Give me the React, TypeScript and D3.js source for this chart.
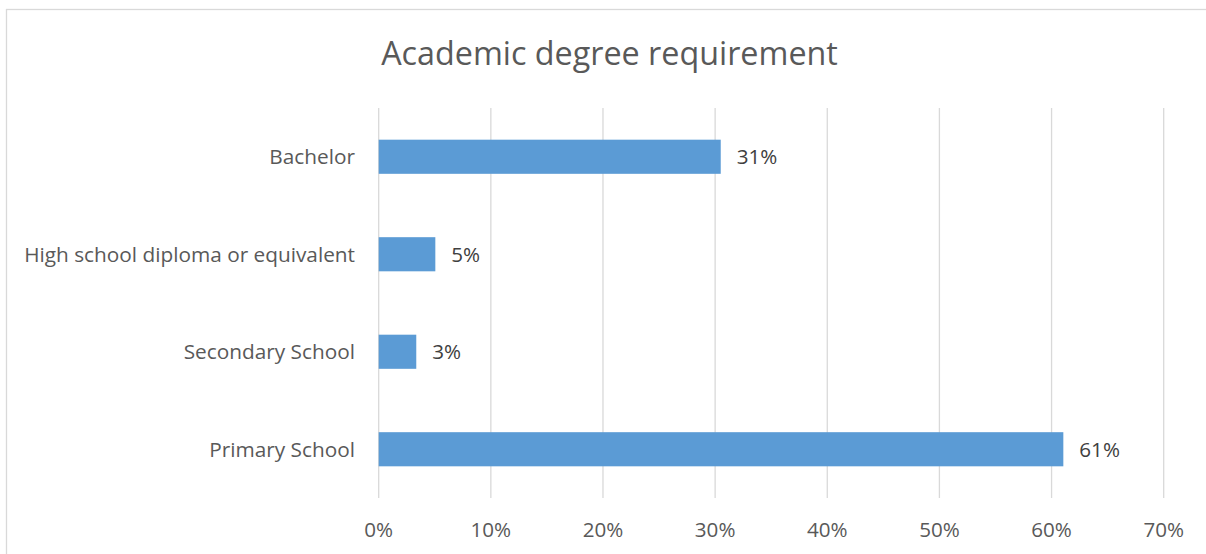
import React from "react";
import * as d3 from "d3";

const categories = ["Bachelor", "High school diploma or equivalent", "Secondary School", "Primary School"];
const values = [0.305, 0.0505, 0.0335, 0.6105];
const valueLabels = ["31%", "5%", "3%", "61%"];
const ticks = [0, 0.1, 0.2, 0.3, 0.4, 0.5, 0.6, 0.7];
const title = "Academic degree requirement";

export default function App() {
  const W = 1206, H = 554;
  const left = 378.7, right = 1163.7, top = 108, bottom = 498;
  const x = d3.scaleLinear().domain([0, 0.7]).range([left, right]);
  const y = d3.scaleBand<string>().domain(categories).range([top, bottom]).paddingInner(0.65).paddingOuter(0.325);
  const font = "'Open Sans', sans-serif";
  return (
    <svg width={W} height={H} style={{ position: "absolute", left: 0, top: 0, background: "#fff" }}>
      <rect x={6.5} y={9.5} width={1400} height={700} fill="#fff" stroke="#D9D9D9" strokeWidth={1.3} />
      <text x={609.5} y={65} textAnchor="middle" fontFamily={font} fontSize={32.3} fill="#595959">{title}</text>
      {ticks.map((t) => (
        <g key={t}>
          <line x1={x(t)} x2={x(t)} y1={top} y2={bottom} stroke="#D9D9D9" strokeWidth={1.3} />
          <text x={x(t)} y={537} textAnchor="middle" fontFamily={font} fontSize={20.6} fill="#595959">{d3.format(".0%")(t)}</text>
        </g>
      ))}
      {categories.map((c, i) => {
        const yc = (y(c) as number) + y.bandwidth() / 2;
        return (
          <g key={c}>
            <rect x={x(0)} y={y(c)} width={x(values[i]) - x(0)} height={y.bandwidth()} fill="#5B9BD5" />
            <text x={355} y={yc + 7.7} textAnchor="end" fontFamily={font} fontSize={20.8} fill="#595959">{c}</text>
            <text x={x(values[i]) + 16} y={yc + 7.7} fontFamily={font} fontSize={20.6} fill="#404040">{valueLabels[i]}</text>
          </g>
        );
      })}
    </svg>
  );
}
